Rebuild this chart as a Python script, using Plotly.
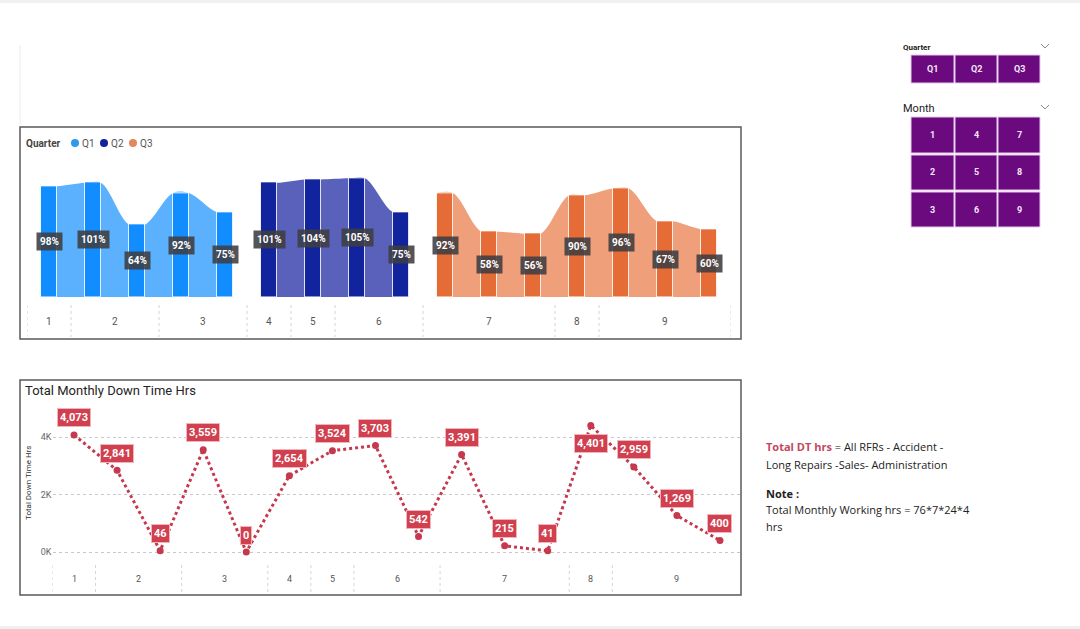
import plotly.graph_objects as go

# ---------------- data ----------------
months = [1, 2, 2, 3, 3, 4, 5, 6, 6, 7, 7, 7, 8, 9, 9, 9]
quarters = ["Q1"] * 5 + ["Q2"] * 4 + ["Q3"] * 7
availability_pct = [98, 101, 64, 92, 75, 101, 104, 105, 75, 92, 58, 56, 90, 96, 67, 60]
downtime_hrs = [4073, 2841, 46, 3559, 0, 2654, 3524, 3703, 542, 3391, 215, 41, 4401, 2959, 1269, 400]
quarter_names = ["Q1", "Q2", "Q3"]
month_buttons = [1, 2, 3, 4, 5, 6, 7, 8, 9]
y_ticks = [0, 2000, 4000]
y_tick_text = ["0K", "2K", "4K"]

# ---------------- styles ----------------
W, H = 1080, 629
dark_col = {"Q1": "#118DFF", "Q2": "#12239E", "Q3": "#E66C37"}
light_col = {"Q1": "#5CB1FF", "Q2": "#5961BA", "Q3": "#EF9F7A"}
legend_col = {"Q1": "#2F9BE8", "Q2": "#12239E", "Q3": "#E3875C"}
line_col = "#C5384D"
label_red = "#D0404F"
purple = "#6A0A7E"
FONT = "Roboto"


def fx(px):
    return px / W


def fy(py):
    return 1 - py / H


def pa(px, py, text, size, color="#222", xanchor="center", family=FONT, **kw):
    d = dict(x=fx(px), y=fy(py), xref="paper", yref="paper", xanchor=xanchor, yanchor="middle",
             text=text, showarrow=False, font=dict(family=family, size=size, color=color))
    d.update(kw)
    return d


n = len(months)
xs = list(range(n))
BW = 0.36

fig = go.Figure()

# ---------- top chart: ribbon-like area (base axes) + columns (overlay axes) ----------
for q in quarter_names:
    idx = [i for i in xs if quarters[i] == q]
    ax, ay = [], []
    for i in idx:
        ax += [i - BW / 2, i + BW / 2]
        ay += [availability_pct[i], availability_pct[i]]
    fig.add_trace(go.Scatter(
        x=ax, y=ay, mode="lines", line=dict(shape="spline", smoothing=1.0, color=light_col[q], width=0),
        fill="tozeroy", fillcolor=light_col[q], hoverinfo="skip", showlegend=False,
        xaxis="x", yaxis="y"))
for q in quarter_names:
    idx = [i for i in xs if quarters[i] == q]
    fig.add_trace(go.Bar(
        x=idx, y=[availability_pct[i] for i in idx], width=BW,
        marker=dict(color=dark_col[q], line=dict(color="rgba(255,255,255,0.85)", width=1)),
        showlegend=False, xaxis="x3", yaxis="y3"))

# ---------- bottom chart: downtime line ----------
fig.add_trace(go.Scatter(
    x=xs, y=downtime_hrs, mode="lines+markers",
    line=dict(color=line_col, width=3, dash="dot"),
    marker=dict(color=line_col, size=7),
    showlegend=False, xaxis="x2", yaxis="y2"))

annotations = []
shapes = []

# top chart value labels
for i in xs:
    annotations.append(dict(
        x=i, y=availability_pct[i] / 2, xref="x3", yref="y3",
        text=f"<b>{availability_pct[i]}%</b>", showarrow=False,
        font=dict(family=FONT, size=10, color="white"),
        bgcolor="rgba(62,62,66,0.88)", borderpad=3))

# bottom chart value labels
for i in xs:
    v = downtime_hrs[i]
    shift = -18 if v == max(downtime_hrs) else 17
    annotations.append(dict(
        x=i, y=v, xref="x2", yref="y2", yshift=shift,
        text=f"<b>{v:,}</b>", showarrow=False,
        font=dict(family=FONT, size=11, color="white"),
        bgcolor=label_red, bordercolor="#F0B5BC", borderwidth=1, borderpad=2))

# month labels and separators (both charts)
month_list = sorted(set(months))
bounds = [-0.5]
for k in range(1, n):
    if months[k] != months[k - 1]:
        bounds.append(k - 0.5)
bounds.append(n - 0.5)
for m in month_list:
    idx = [i for i in xs if months[i] == m]
    c = sum(idx) / len(idx)
    annotations.append(dict(x=c, y=fy(321), xref="x", yref="paper", yanchor="middle", text=str(m),
                            showarrow=False, font=dict(family=FONT, size=10, color="#555")))
    annotations.append(dict(x=c, y=fy(579), xref="x2", yref="paper", yanchor="middle", text=str(m),
                            showarrow=False, font=dict(family=FONT, size=9, color="#555")))
for b in bounds:
    shapes.append(dict(type="line", xref="x", yref="paper", x0=b, x1=b, y0=fy(305), y1=fy(337),
                       line=dict(color="#d4d4d4", width=1, dash="dot")))
    if b < n - 1:
        shapes.append(dict(type="line", xref="x2", yref="paper", x0=b, x1=b, y0=fy(565), y1=fy(593),
                           line=dict(color="#d4d4d4", width=1, dash="dot")))

# panel borders and page bands
shapes += [
    dict(type="rect", xref="paper", yref="paper", x0=0, x1=1, y0=fy(3), y1=1,
         fillcolor="#f0f0f0", line=dict(width=0)),
    dict(type="rect", xref="paper", yref="paper", x0=0, x1=1, y0=0, y1=fy(626),
         fillcolor="#f0f0f0", line=dict(width=0)),
    dict(type="line", xref="paper", yref="paper", x0=fx(20), x1=fx(20), y0=fy(45), y1=fy(125),
         line=dict(color="#ececec", width=1)),
    dict(type="rect", xref="paper", yref="paper", x0=fx(20), x1=fx(741), y0=fy(339), y1=fy(127),
         line=dict(color="#5a5a5a", width=1.5)),
    dict(type="rect", xref="paper", yref="paper", x0=fx(20), x1=fx(741), y0=fy(595), y1=fy(380),
         line=dict(color="#5a5a5a", width=1.5)),
]

# legend of top chart
annotations.append(pa(24, 143, "<b>Quarter</b>", 10, "#444", xanchor="left"))
for q, dx in zip(quarter_names, [75, 104, 133]):
    shapes.append(dict(type="circle", xref="paper", yref="paper",
                       x0=fx(dx - 4), x1=fx(dx + 4), y0=fy(147), y1=fy(139),
                       fillcolor=legend_col[q], line=dict(width=0)))
    annotations.append(pa(dx + 5, 143, q, 10, "#555", xanchor="left"))

# bottom chart title and y title
annotations.append(pa(23, 390, "Total Monthly Down Time Hrs", 13, "#252423", xanchor="left"))
annotations.append(pa(29, 483, "Total Down Time Hrs", 8, "#333", textangle=-90))

# slicers
annotations.append(pa(901, 47, "<b>Quarter</b>", 8, "#222", xanchor="left"))
annotations.append(pa(901, 108, "Month", 11, "#222", xanchor="left"))
for cy in [47, 108]:
    shapes.append(dict(type="path", xref="paper", yref="paper",
                       path=f"M {fx(1041)} {fy(cy - 3)} L {fx(1045)} {fy(cy + 1)} L {fx(1049)} {fy(cy - 3)}",
                       line=dict(color="#888", width=1)))
col_x = [(911, 954), (955, 997), (998, 1040)]
for (x0, x1), q in zip(col_x, quarter_names):
    shapes.append(dict(type="rect", xref="paper", yref="paper", x0=fx(x0), x1=fx(x1), y0=fy(83), y1=fy(55),
                       fillcolor=purple, line=dict(color="#e6c8ec", width=1)))
    annotations.append(pa((x0 + x1) / 2, 69, f"<b>{q}</b>", 9, "#f4e6f6"))
row_y = [(117, 153), (155, 190), (192, 227)]
for k, m in enumerate(month_buttons):
    c, r = k // 3, k % 3
    (x0, x1), (y0, y1) = col_x[c], row_y[r]
    shapes.append(dict(type="rect", xref="paper", yref="paper", x0=fx(x0), x1=fx(x1), y0=fy(y1), y1=fy(y0),
                       fillcolor=purple, line=dict(color="#e6c8ec", width=1)))
    annotations.append(pa((x0 + x1) / 2, (y0 + y1) / 2, f"<b>{m}</b>", 9, "#f4e6f6"))

# note text
note_lines = [
    (447, "<b><span style='color:#C4475F'>Total DT hrs</span></b> = All RFRs - Accident -"),
    (464, "Long Repairs -Sales- Administration"),
    (493, "<b>Note :</b>"),
    (509, "Total Monthly Working hrs = 76*7*24*4"),
    (526, "hrs"),
]
for py, t in note_lines:
    annotations.append(pa(764, py, t, 11, "#222", xanchor="left", family="Open Sans"))

top_dom_x = [fx(27), fx(731)]
top_dom_y = [fy(297), fy(297 - 120 * 1.13)]
fig.update_layout(
    width=W, height=H, margin=dict(l=0, r=0, t=0, b=0),
    paper_bgcolor="white", plot_bgcolor="rgba(0,0,0,0)",
    bargap=0, barmode="overlay",
    xaxis=dict(domain=top_dom_x, range=[-0.5, n - 0.5], showticklabels=False,
               showgrid=False, zeroline=False, fixedrange=True),
    yaxis=dict(domain=top_dom_y, range=[0, 120], showticklabels=False,
               showgrid=False, zeroline=False, fixedrange=True),
    xaxis3=dict(domain=top_dom_x, range=[-0.5, n - 0.5], showticklabels=False, overlaying="x",
                showgrid=False, zeroline=False, anchor="y3", fixedrange=True),
    yaxis3=dict(domain=top_dom_y, range=[0, 120], showticklabels=False, overlaying="y",
                showgrid=False, zeroline=False, anchor="x3", fixedrange=True),
    xaxis2=dict(domain=[fx(52.5), fx(741.5)], range=[-0.5, n - 0.5], showticklabels=False,
                showgrid=False, zeroline=False, anchor="y2", fixedrange=True),
    yaxis2=dict(domain=[fy(565), fy(395)], range=[-452, 5461], tickvals=y_ticks, ticktext=y_tick_text,
                showgrid=True, gridcolor="#c8c8c8", griddash="dot", gridwidth=1, zeroline=False,
                tickfont=dict(family=FONT, size=9, color="#666"), anchor="x2", fixedrange=True),
    annotations=annotations, shapes=shapes, showlegend=False,
)

fig.write_html("out.html", config={"displayModeBar": False},
               post_script="document.body.style.margin='0';")
